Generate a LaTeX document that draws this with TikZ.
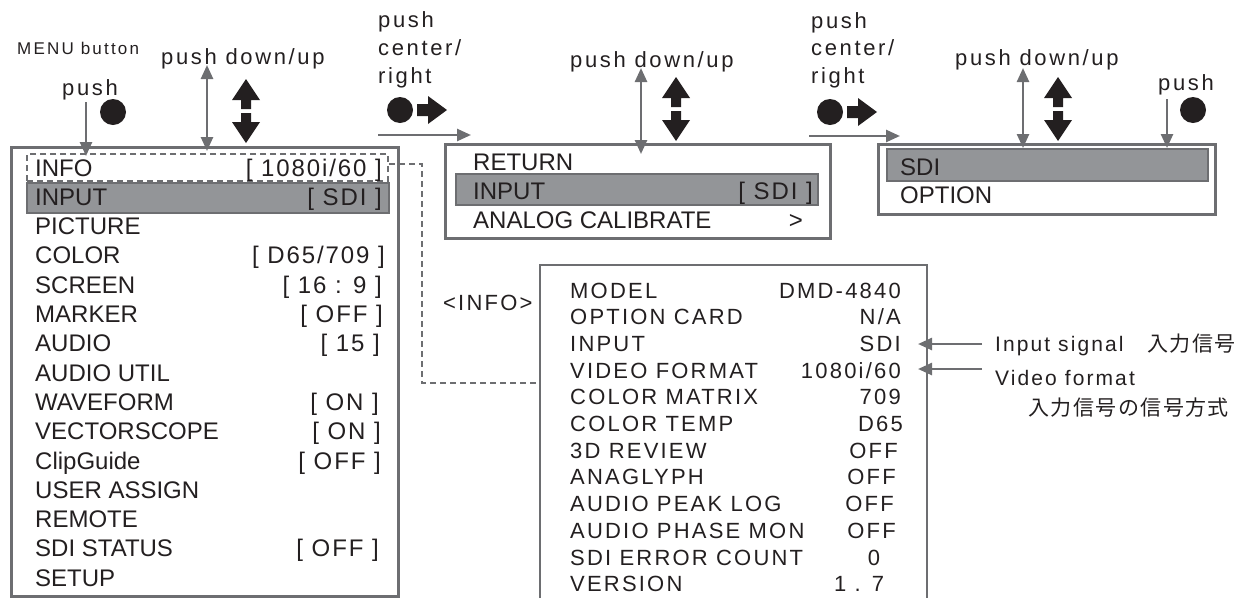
\documentclass[tikz,border=0pt]{standalone}
\usepackage{fontspec}
\setmainfont{Liberation Sans}
\newfontfamily\mfont{Liberation Sans}
\newfontfamily\vfont[LetterSpace=8]{Liberation Sans}
\newfontfamily\ifont[LetterSpace=10]{Liberation Sans}
\newfontfamily\lfont[LetterSpace=12]{Liberation Sans}
\newfontfamily\sfont[LetterSpace=13]{Liberation Sans}
\newfontfamily\jfont[LetterSpace=7]{Noto Sans CJK JP}
\usetikzlibrary{arrows.meta}
\definecolor{lg}{HTML}{6D6E71}
\definecolor{hg}{HTML}{939598}
\definecolor{tx}{HTML}{231F20}
\tikzset{
  box/.style={draw=lg, line width=2.5pt, fill=white},
  bar/.style={draw=lg, fill=hg, line width=2pt},
  dashline/.style={draw=lg, line width=2pt, dash pattern=on 6pt off 4pt},
  gline/.style={draw=lg, line width=2.5pt},
  gar/.style={gline, -{Triangle[length=14pt,width=12pt]}},
  gdar/.style={gline, {Triangle[length=14pt,width=12pt]}-{Triangle[length=14pt,width=12pt]}},
  mt/.style={font=\mfont\fontsize{24}{24}\selectfont, text=tx, inner sep=0pt, anchor=base west},
  mv/.style={font=\vfont\fontsize{24}{24}\selectfont, text=tx, inner sep=0pt, anchor=base east},
  it/.style={font=\ifont\fontsize{22}{22}\selectfont, text=tx, inner sep=0pt, anchor=base west},
  iv/.style={font=\ifont\fontsize{22}{22}\selectfont, text=tx, inner sep=0pt, anchor=base east},
  ic/.style={font=\ifont\fontsize{22}{22}\selectfont, text=tx, inner sep=0pt, anchor=base},
  lb/.style={font=\lfont\fontsize{22}{22}\selectfont, text=tx, inner sep=0pt, anchor=base west},
  an/.style={font=\ifont\fontsize{21}{21}\selectfont, text=tx, inner sep=0pt, anchor=base west},
  jp/.style={font=\jfont\fontsize{21}{21}\selectfont, text=tx, inner sep=0pt, anchor=base west},
  sm/.style={font=\sfont\fontsize{17}{17}\selectfont, text=tx, inner sep=0pt, anchor=base west},
  updown/.pic={
    \fill[tx] (0,-32) -- (14,-11) -- (5,-11) -- (5,-2) -- (-5,-2) -- (-5,-11) -- (-14,-11) -- cycle;
    \fill[tx] (0,32) -- (14,11) -- (5,11) -- (5,2) -- (-5,2) -- (-5,11) -- (-14,11) -- cycle;
  },
  dotright/.pic={
    \fill[tx] (0,0) circle (13pt);
    \fill[tx] (17,-6) -- (28,-6) -- (28,-14) -- (47,0) -- (28,14) -- (28,6) -- (17,6) -- cycle;
  }
}
\begin{document}
\begin{tikzpicture}[x=1pt,y=-1pt]
\useasboundingbox (0,0) rectangle (1240,598);

% ---------- boxes ----------
\node[box, anchor=north west, minimum width=387pt, minimum height=449pt] (menu) at (10,146) {};
\node[box, anchor=north west, minimum width=385pt, minimum height=94pt] (sub) at (444,143) {};
\node[box, anchor=north west, minimum width=337pt, minimum height=70pt] (opt) at (877,143) {};
\draw[draw=lg, line width=2.5pt] (540,598) -- (540,265) -- (927,265) -- (927,598);

% highlight bars
\node[bar, anchor=north west, minimum width=362pt, minimum height=30pt] (bar1) at (26,182) {};
\node[bar, anchor=north west, minimum width=362pt, minimum height=31pt] (bar2) at (455,173) {};
\node[bar, anchor=north west, minimum width=321pt, minimum height=32pt] (bar3) at (886,148) {};

% dashed INFO frame and link
\node[dashline, anchor=north west, minimum width=361pt, minimum height=27pt] (infobox) at (26,153) {};
\coordinate (d1) at (422,164);
\coordinate (d2) at (422,383);
\coordinate (d3) at (537,383);
\draw[dashline] (infobox.east |- d1) -- (d1) -- (d2) -- (d3);

% ---------- main menu text ----------
\node[mt] (m0) at (35,176) {INFO};        \node[mv] (v0) at (382,176) {[ 1080i/60 ]};
\node[mt] (m1) at (35,205.3) {INPUT};     \node[mv] (v1) at (382,205.3) {[ SDI ]};
\node[mt] (m2) at (35,234.6) {PICTURE};
\node[mt] (m3) at (35,263.9) {COLOR};     \node[mv] (v3) at (385,263.9) {[ D65/709 ]};
\node[mt] (m4) at (35,293.2) {SCREEN};    \node[mv] (v4) at (382,293.2) {[ 16 : 9 ]};
\node[mt] (m5) at (35,322.5) {MARKER};    \node[mv] (v5) at (383,322.5) {[ OFF ]};
\node[mt] (m6) at (35,351.8) {AUDIO};     \node[mv] (v6) at (380,351.8) {[ 15 ]};
\node[mt] (m7) at (35,381.1) {AUDIO UTIL};
\node[mt] (m8) at (35,410.4) {WAVEFORM};  \node[mv] (v8) at (379,410.4) {[ ON ]};
\node[mt] (m9) at (35,439.7) {VECTORSCOPE}; \node[mv] (v9) at (381,439.7) {[ ON ]};
\node[mt] (m10) at (35,469) {ClipGuide};  \node[mv] (v10) at (381,469) {[ OFF ]};
\node[mt] (m11) at (35,498.3) {USER ASSIGN};
\node[mt] (m12) at (35,527.6) {REMOTE};
\node[mt] (m13) at (35,556.9) {SDI STATUS}; \node[mv] (v13) at (379,556.9) {[ OFF ]};
\node[mt] (m14) at (35,586.2) {SETUP};

% ---------- sub menu text ----------
\node[mt] (s0) at (473,170) {RETURN};
\node[mt] (s1) at (473,199) {INPUT};  \node[mv] (sv1) at (813,199) {[ SDI ]};
\node[mt] (s2) at (473,228) {ANALOG CALIBRATE}; \node[mv] (sv2) at (803,228) {>};

% ---------- option menu text ----------
\node[mt] (o0) at (900,175) {SDI};
\node[mt] (o1) at (900,203) {OPTION};

% ---------- INFO panel ----------
\node[it] (inf) at (443,310) {<INFO>};
\node[it] (i0) at (570,298) {MODEL};            \node[iv] (iv0) at (901,298) {DMD-4840};
\node[it] (i1) at (570,324.7) {OPTION CARD};    \node[iv] (iv1) at (901,324.7) {N/A};
\node[it] (i2) at (570,351.4) {INPUT};          \node[iv] (iv2) at (901,351.4) {SDI};
\node[it] (i3) at (570,378.1) {VIDEO FORMAT};   \node[iv] (iv3) at (901,378.1) {1080i/60};
\node[it] (i4) at (570,404.8) {COLOR MATRIX};   \node[iv] (iv4) at (901,404.8) {709};
\node[it] (i5) at (570,431.5) {COLOR TEMP};     \node[iv] (iv5) at (903,431.5) {D65};
\node[it] (i6) at (570,458.2) {3D REVIEW};      \node[iv] (iv6) at (898,458.2) {OFF};
\node[it] (i7) at (570,484.9) {ANAGLYPH};       \node[iv] (iv7) at (896,484.9) {OFF};
\node[it] (i8) at (570,511.6) {AUDIO PEAK LOG}; \node[iv] (iv8) at (894,511.6) {OFF};
\node[it] (i9) at (570,538.3) {AUDIO PHASE MON}; \node[iv] (iv9) at (896,538.3) {OFF};
\node[it] (i10) at (570,565) {SDI ERROR COUNT}; \node[ic] (iv10) at (874,565) {0};
\node[it] (i11) at (570,591.7) {VERSION};       \node[ic] (iv11) at (859,591.7) {1 . 7};

% ---------- annotations ----------
\node[an] (insig) at (995,351) {Input signal};
\node[jp] (insigj) at (1147,351) {入力信号};
\node[an] (vfmt) at (995,385) {Video format};
\node[jp] (vfmtj) at (1028,415) {入力信号の信号方式};
\coordinate (aa1) at (982,344); \coordinate (ab1) at (918,344);
\coordinate (aa2) at (982,369); \coordinate (ab2) at (918,369);
\draw[gar] (aa1) -- (ab1);
\draw[gar] (aa2) -- (ab2);

% ---------- top labels ----------
\node[sm] (menubtn) at (17,54) {MENU button};
\node[lb] (push1) at (62,95) {push};
\node[lb] (pdu1) at (161,64) {push down/up};
\node[lb] (pc1a) at (378,27) {push};
\node[lb] (pc1b) at (378,55) {center/};
\node[lb] (pc1c) at (378,83) {right};
\node[lb] (pdu2) at (570,67) {push down/up};
\node[lb] (pc2a) at (811,28) {push};
\node[lb] (pc2b) at (811,55) {center/};
\node[lb] (pc2c) at (811,83) {right};
\node[lb] (pdu3) at (955,65) {push down/up};
\node[lb] (push3) at (1158,90) {push};

% ---------- black symbols ----------
\fill[tx] (113,112) circle (13pt);
\fill[tx] (1193,110) circle (13pt);
\pic at (246,111) {updown};
\pic at (676,109) {updown};
\pic at (1058,109) {updown};
\pic at (400,110) {dotright};
\pic at (830,112) {dotright};

% ---------- gray arrows ----------
\coordinate (g1a) at (86,102);  \coordinate (g1b) at (86,156);
\draw[gar] (g1a) -- (g1b);
\coordinate (g2a) at (207,65);  \coordinate (g2b) at (207,151);
\draw[gdar] (g2a) -- (g2b);
\coordinate (g3a) at (378,135); \coordinate (g3b) at (471,135);
\draw[gar] (g3a) -- (g3b);
\coordinate (g4a) at (641,68);  \coordinate (g4b) at (641,154);
\draw[gdar] (g4a) -- (g4b);
\coordinate (g5a) at (809,136); \coordinate (g5b) at (900,136);
\draw[gar] (g5a) -- (g5b);
\coordinate (g6a) at (1023,68); \coordinate (g6b) at (1023,148);
\draw[gdar] (g6a) -- (g6b);
\coordinate (g7a) at (1167,99); \coordinate (g7b) at (1167,148);
\draw[gar] (g7a) -- (g7b);
\end{tikzpicture}
\end{document}
